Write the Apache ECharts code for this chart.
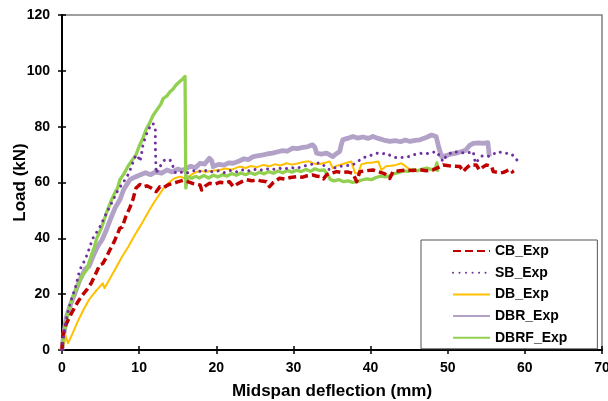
<!DOCTYPE html>
<html>
<head>
<meta charset="utf-8">
<script src="https://cdn.jsdelivr.net/npm/echarts@6/dist/echarts.min.js"></script>
<style>
  html, body { margin: 0; padding: 0; background: #fff; }
  #chart { width: 608px; height: 401px; }
</style>
</head>
<body>
<div id="chart"></div>
<script>
// Load–deflection curves of the tested beams: [midspan deflection (mm), load (kN)]
var seriesNames = ['CB_Exp', 'SB_Exp', 'DB_Exp', 'DBR_Exp', 'DBRF_Exp'];

var xTicks = [0, 10, 20, 30, 40, 50, 60, 70];
var yTicks = [0, 20, 40, 60, 80, 100, 120];

var cbExp = [
  [0,0],[0.1,5],[0.5,9],[1.2,13],[2,17],[2.6,19.5],[3.2,21.5],[3.8,24],[4.4,27.5],[4.9,30.5],[5.3,31],
  [5.8,33.5],[6.2,35.8],[6.8,39],[7.5,43.6],[7.8,44],[8.3,48],[8.8,51],[9.2,54],[9.6,58],[10.1,59.3],
  [10.6,58.5],[11.0,58.8],[11.4,58.3],[11.8,57.6],[12.2,56.7],[12.7,58.5],[13.2,58.2],[13.8,59.2],
  [14.4,59.7],[15.0,60.2],[15.7,60.8],[16.3,60.3],[17.0,59.6],[17.9,59.1],[18.1,57.3],[18.5,58.6],
  [19.1,59.7],[19.8,59.4],[20.5,60.1],[21.2,59.8],[21.7,60.3],[22.2,58.5],[22.8,59.6],[23.4,60.4],
  [23.9,61],[24.6,60.6],[25.3,60.9],[25.9,60.5],[26.5,60.3],[26.9,58.5],[27.4,60],[28.2,61.5],
  [28.9,61.2],[29.6,61.8],[30.4,62.1],[31.2,61.9],[31.8,62.4],[32.5,62.7],[33.1,62.2],[33.5,62.1],
  [33.9,61.3],[34.3,62.8],[35,63.4],[35.6,63.9],[36.3,63.6],[37.0,63.8],[37.7,63.3],[38.0,61.5],
  [38.2,60.3],[38.6,63.9],[39.4,64.2],[40.3,64.5],[41.0,63.9],[41.8,63.2],[42.5,61.5],[42.9,63.9],
  [43.8,64.2],[44.6,64.5],[45.5,64.3],[46.3,64.6],[47.2,64.2],[48.1,64.5],[48.8,65.4],[49.4,66.3],
  [50.2,66],[50.9,65.8],[51.6,65.7],[52.0,63.9],[52.4,65.1],[52.9,66.3],[53.7,66.3],[54.1,64.5],
  [54.6,65.6],[55.0,66.3],[55.7,65.7],[55.9,63.9],[56.1,63.3],[56.7,63.5],[57.2,63.6],[57.6,64.1],
  [58.0,64.7],[58.3,64.2],[58.5,63.3]
];

var sbExp = [
  [0,0],[0.3,7],[0.7,13],[1.2,18],[1.8,23],[2.3,28.7],[3.1,33],[4.0,40],[4.9,44],[5.75,49],[6.5,53],
  [7.2,57],[7.8,59.5],[8.3,61.5],[8.7,63.5],[9.0,65.7],[9.3,68],[9.6,69.9],[9.9,69],[10.1,67.5],
  [10.3,70],[10.5,73.5],[10.9,77],[11.4,80],[11.8,81.2],[12.1,79],[12.1,73],[12.15,68],[12.2,63.3],
  [12.4,64.5],[12.7,65.7],[13.3,68.1],[14.0,68.1],[14.4,65.7],[14.7,63.5],[15.3,63.8],[16.0,63.2],
  [16.8,64],[17.5,64.5],[18.2,63.6],[18.8,64.5],[19.5,63.8],[20.3,64.2],[21,63.5],[21.8,64.3],
  [22.5,63.7],[23.3,64.6],[24,64],[24.8,64.8],[25.6,64.3],[26.4,65],[27.2,64.5],[28,65.2],[28.8,64.8],
  [29.6,65.4],[30.4,65],[31.2,65.8],[32,66.2],[32.7,66.8],[33.4,67],[34,66],[34.7,64.5],[35.3,65.2],
  [36,65.8],[36.8,66],[37.7,66.3],[38.3,67.5],[39,68.8],[39.8,69.5],[40.8,70.5],[41.4,70.2],[42,70.5],
  [42.7,69.5],[43.4,68.8],[44.2,69],[45,69.3],[45.7,70],[46.4,70.5],[47,70.2],[47.7,70.5],[48.5,71.1],
  [49,69.3],[49.4,67.5],[49.8,69.5],[50.7,71.1],[51.5,70.8],[52.4,70.5],[53.3,71.1],[53.5,68.1],
  [53.6,66.9],[54.4,69.5],[55.2,69.3],[55.8,70],[56.5,71.1],[57.2,70.5],[58,70.5],[58.7,69.3],[59,67.9]
];

var dbExp = [
  [0,0],[0.3,3],[0.45,5.2],[0.78,2.4],[1.3,5.5],[2,10],[2.8,14.5],[3.5,18],[4.2,20.5],[4.9,22.7],
  [5.3,23.9],[5.5,22.1],[6.2,25.5],[7,29.5],[7.8,33.5],[8.6,37],[9.4,41],[10.1,44.2],[10.5,46],
  [11.2,49.5],[12,53.2],[12.7,56],[13.3,58.5],[14.0,60.3],[14.6,61.5],[15.3,62.1],[15.9,61.5],
  [16.3,60.8],[16.6,62.5],[17.2,63.5],[17.9,64.2],[18.6,63.8],[19.4,64.2],[20.4,64.5],[21.2,65],
  [22,64.6],[23,65.7],[23.8,65.2],[24.5,65.9],[25.3,65.5],[26.1,66.3],[26.9,65.8],[27.6,66.5],
  [28.3,66.1],[29.1,66.9],[29.8,66.4],[30.5,66.8],[31.2,67.3],[31.7,67.5],[32.1,67.5],[32.7,66.7],
  [33.4,66.6],[34,67],[34.7,67.5],[35.1,65.1],[35.6,66],[36,66.3],[36.8,67],[37.5,67.5],[38,63.3],
  [38.4,63.4],[38.8,66.5],[39.5,67],[40.3,67.2],[41.0,67.5],[41.4,64.5],[42,65.8],[42.7,66],
  [43.3,66.3],[44.0,66.9],[44.6,65.7],[45.1,64.5]
];

var dbrExp = [
  [0,0],[0.2,5],[0.57,11.9],[1.2,17],[1.7,20.5],[2.3,25],[3,29],[3.5,30],[4.0,33.4],[4.6,37],[5.2,39.5],
  [5.75,43],[6.3,47],[6.9,51],[7.5,53.8],[8.0,57.5],[8.8,61],[9.5,62],[10.1,62.7],[10.8,63.5],
  [11.5,62.8],[12.2,63.9],[12.9,63.3],[13.6,64.5],[14.3,63.8],[15.0,64.8],[15.6,64.3],[16.1,65.1],
  [16.7,65.8],[17.3,65.3],[17.9,66.9],[18.5,66.6],[19.1,68.7],[19.4,67.8],[19.6,65.7],[20.3,66.5],
  [21,66.2],[21.6,67],[22.2,66.9],[22.9,67.6],[23.6,68.5],[24.2,68.2],[24.8,69.3],[25.5,69.6],
  [26.1,69.9],[26.7,70.3],[27.3,70.5],[28,71],[28.6,71.4],[29.2,71.2],[29.9,72.3],[30.5,72.1],
  [31.2,72.6],[31.8,72.8],[32.5,73.5],[32.8,72.5],[33,70.5],[33.6,70.2],[34.3,70.5],[35.1,69.3],
  [35.6,70.4],[36,71.1],[36.2,73.5],[36.4,75.3],[37,75.8],[37.7,76.5],[38.3,75.9],[39,76.3],
  [39.7,75.8],[40.3,76.5],[41,75.8],[41.7,75.2],[42.5,74.7],[43.2,75],[43.9,74.6],[44.5,75.2],
  [45.1,74.7],[45.8,75.1],[46.4,75.3],[47.1,76],[47.9,77],[48.5,76.5],[48.8,73],[49.2,69.3],
  [49.8,69.6],[50.4,70.2],[51.1,70.5],[51.7,71],[52.3,71.5],[52.8,73.2],[53.3,74],[54,74.2],
  [54.6,74],[55.2,74.3],[55.3,72],[55.4,69.3]
];

var dbrfExp = [
  [0,0],[0.2,5],[0.55,10],[0.9,15],[1.4,19],[2,23],[2.6,26.5],[3.2,28.7],[3.7,33],[4.2,37],[4.5,40],
  [5.0,43],[5.4,46],[5.75,49],[6.3,53],[6.8,56],[7.2,58],[7.5,61],[8,63],[8.6,66],[9.1,68],[9.6,70],
  [10.0,73],[10.5,76],[10.9,79],[11.3,81],[11.8,84],[12.3,86],[12.8,88],[13.1,90],[13.6,91],
  [14.0,92.5],[14.4,93.5],[14.8,95],[15.2,96],[15.6,97],[15.95,98],[16.0,97.5],[16.05,58],[16.3,62],
  [16.8,61.5],[17.3,62.2],[17.8,61.6],[18.4,62.5],[19,61.6],[19.6,62.6],[20.2,62],[20.8,62.8],
  [21.4,62.3],[22,63.2],[22.6,62.6],[23.2,63.4],[23.8,62.8],[24.4,63.5],[25,62.9],[25.6,63.7],
  [26.2,63.1],[26.8,63.9],[27.4,63.3],[28,64.1],[28.6,63.5],[29.2,64.3],[29.8,63.7],[30.4,64.4],
  [31,63.9],[31.6,64.7],[32.2,64],[32.8,64.9],[33.4,64.3],[34,64.5],[34.5,62.5],[34.8,61],[35.3,60.6],
  [35.9,61],[36.5,60.3],[37.1,60.6],[37.7,60],[38.3,60.4],[38.9,60.9],[39.5,61.3],[40.1,61],
  [40.7,61.8],[41.3,62.3],[41.9,62],[42.5,62.4],[43.1,63.2],[43.7,63.6],[44.3,64.2],[44.9,64],
  [45.5,64.6],[46.1,64.2],[46.7,64.8],[47.3,65.2],[47.9,64.6],[48.4,65],[48.6,67],[48.7,63.8]
];

var FONT = '"Liberation Sans", Arial, sans-serif';

var chart = echarts.init(document.getElementById('chart'), null, { renderer: 'canvas' });

var axisRangeX = { min: xTicks[0], max: xTicks[xTicks.length - 1], interval: xTicks[1] - xTicks[0] };
var axisRangeY = { min: yTicks[0], max: yTicks[yTicks.length - 1], interval: yTicks[1] - yTicks[0] };

function lineSeries(name, data, color, width, type, cap, z) {
  return {
    name: name,
    type: 'line',
    data: data,
    xAxisIndex: 0,
    yAxisIndex: 0,
    symbol: 'none',
    showSymbol: false,
    smooth: false,
    animation: false,
    z: z,
    lineStyle: { color: color, width: width, type: type, cap: cap || 'butt', join: 'round' },
    itemStyle: { color: color }
  };
}

var option = {
  animation: false,
  backgroundColor: '#ffffff',
  grid: {
    left: 62, right: 6, top: 15, bottom: 51,
    containLabel: false,
    outerBoundsMode: 'none',
    show: true, borderColor: '#808080', borderWidth: 1.5, backgroundColor: 'transparent'
  },
  legend: {
    orient: 'vertical',
    left: 421, top: 240,
    padding: [4, 30, 4, 31],
    itemWidth: 37, itemHeight: 14, itemGap: 7.7,
    borderColor: '#555555', borderWidth: 1, backgroundColor: '#ffffff',
    itemStyle: { opacity: 0, borderWidth: 0 },
    textStyle: { fontFamily: FONT, fontWeight: 'bold', fontSize: 14, color: '#000', lineHeight: 14 },
    data: seriesNames
  },
  xAxis: [
    Object.assign({
      type: 'value', position: 'bottom',
      name: 'Midspan deflection (mm)', nameLocation: 'middle', nameGap: 33,
      nameMoveOverlap: false,
      nameTextStyle: { fontFamily: FONT, fontWeight: 'bold', fontSize: 17, color: '#000' },
      axisLine: { show: true, onZero: false, lineStyle: { color: '#000', width: 2 } },
      axisTick: { show: true, inside: false, length: 4, lineStyle: { color: '#000', width: 1.5 } },
      axisLabel: { margin: 11, fontFamily: FONT, fontWeight: 'bold', fontSize: 14, color: '#000' },
      splitLine: { show: false }
    }, axisRangeX),
    Object.assign({
      type: 'value', position: 'bottom', offset: 0,
      axisLine: { show: false },
      axisTick: { show: true, inside: true, length: 4, lineStyle: { color: '#000', width: 1.5 } },
      axisLabel: { show: false },
      splitLine: { show: false }
    }, axisRangeX)
  ],
  yAxis: [
    Object.assign({
      type: 'value', position: 'left',
      name: 'Load (kN)', nameLocation: 'middle', nameGap: 33, nameRotate: 90,
      nameMoveOverlap: false,
      nameTextStyle: { fontFamily: FONT, fontWeight: 'bold', fontSize: 17, color: '#000' },
      axisLine: { show: true, onZero: false, lineStyle: { color: '#000', width: 2 } },
      axisTick: { show: true, inside: false, length: 4, lineStyle: { color: '#000', width: 1.5 } },
      axisLabel: { margin: 12, fontFamily: FONT, fontWeight: 'bold', fontSize: 14, color: '#000' },
      splitLine: { show: false }
    }, axisRangeY),
    Object.assign({
      type: 'value', position: 'left', offset: 0,
      axisLine: { show: false },
      axisTick: { show: true, inside: true, length: 4, lineStyle: { color: '#000', width: 1.5 } },
      axisLabel: { show: false },
      splitLine: { show: false }
    }, axisRangeY)
  ],
  series: [
    lineSeries('DBR_Exp', dbrExp, '#b3a2c7', 4.8, 'solid', 'butt', 2),
    lineSeries('DB_Exp', dbExp, '#ffc000', 2, 'solid', 'butt', 3),
    lineSeries('DBRF_Exp', dbrfExp, '#92d050', 3.3, 'solid', 'butt', 4),
    lineSeries('CB_Exp', cbExp, '#c00000', 3.5, [8, 4], 'butt', 5),
    lineSeries('SB_Exp', sbExp, '#7030a0', 3, [0.01, 6.5], 'round', 6)
  ]
};

chart.setOption(option);
</script>
</body>
</html>
